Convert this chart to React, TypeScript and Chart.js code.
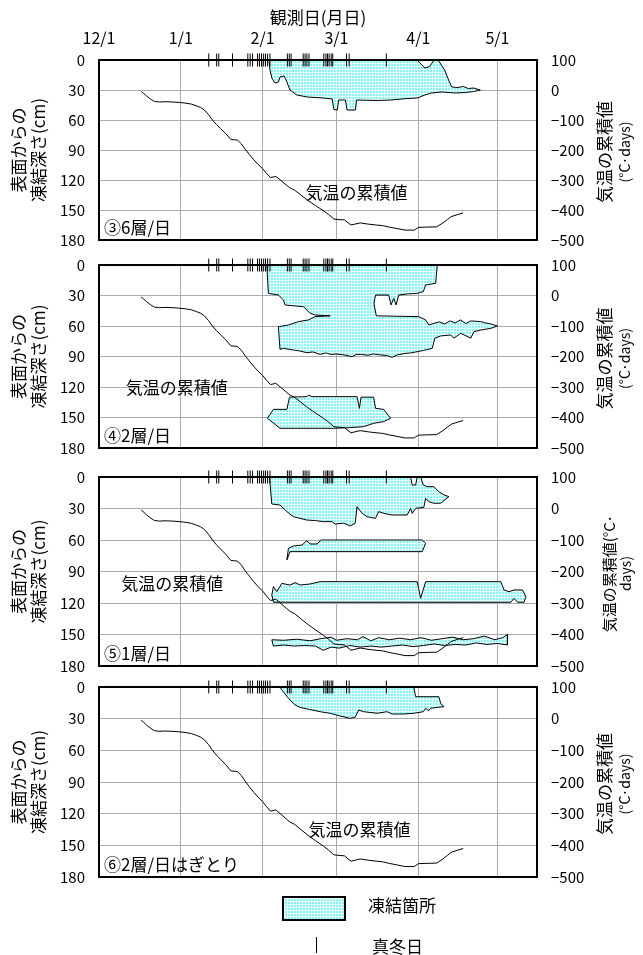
import React, { useEffect, useRef } from "react";
import { Chart, registerables } from "chart.js";

Chart.register(...registerables);

const FONT = '"Noto Sans CJK JP", "Noto Sans", sans-serif';
Chart.defaults.font.family = FONT;
Chart.defaults.color = "#000";

// ---------- axes ----------
const monthDays = [0, 31, 62, 90, 121, 151];
const monthLabels = ["12/1", "1/1", "2/1", "3/1", "4/1", "5/1"];
const dayMin = 0;
const dayMax = 166;
const depthMin = 0;
const depthMax = 180;
const depthStep = 30;
const tempMin = -500;
const tempMax = 100;
const tempStep = 100;

// ---------- cumulative air temperature [day since 12/1, °C·days] ----------
const cumTemp: [number, number][] = [
  [16, -5], [17, -12], [18, -20], [19.5, -30], [21, -38], [23, -40], [25, -39], [28, -40],
  [31, -42], [33, -44], [35, -47], [37, -53], [38.5, -58], [40, -67], [41.5, -82], [43, -100],
  [44.5, -115], [46, -128], [48, -145], [50, -165], [52.5, -167], [54, -180], [55.6, -200],
  [57, -215], [58.7, -233], [60.3, -248], [62, -262], [63.5, -278], [65, -292], [67, -288],
  [69, -302], [71, -317], [72.5, -327], [74, -333], [76.5, -350], [79, -367], [82, -385],
  [85, -402], [87, -415], [89, -430], [91, -432], [93, -433], [95.5, -450], [97, -447],
  [99, -443], [102, -447], [105, -450], [107.5, -452], [110, -457], [113, -462], [116, -467],
  [119.5, -467], [121, -458], [124, -457], [128, -456], [130, -445], [132, -432], [133.5, -422],
  [136, -415], [138, -410],
];

// ---------- 真冬日 (days since 12/1) ----------
const midwinterDays = [
  41.6, 44.6, 45.4, 50.6, 56.4, 57.3, 58.2, 60.1, 60.8, 61.6, 62.4, 63.1, 63.9, 64.8,
  71.4, 72.1, 72.8, 77.4, 78.1, 78.8, 79.6, 85.2, 86, 86.6, 87.2, 88, 88.6, 93.8, 94.8, 108.9,
];

// ---------- frozen zones [day, depth cm] (closed outlines) ----------
const p3Frozen: [number, number][] = [
  [64.4, 0], [120.6, 0], [123.5, 8], [125.3, 6.5], [127, 0], [128.5, 0], [131, 10], [132.5, 20],
  [133.7, 27], [136, 27.5], [138, 26.5], [140, 28.5], [142, 28], [144.5, 30],
  [142, 31.5], [139, 32.5], [135, 33], [130, 32], [126, 33], [123.5, 35], [120.6, 38],
  [116.8, 38.5], [110.5, 40], [105.4, 40.5], [97.6, 40], [97.2, 50], [94, 50], [93.4, 40],
  [90.8, 40], [90.3, 50], [89, 49.5], [88.4, 39], [85, 38], [79, 37], [75, 35], [72.4, 30],
  [71.2, 22], [70.2, 16], [68.6, 17], [68, 22], [66.7, 23], [65.5, 18], [64.8, 10], [64.4, 0],
];

const p4FrozenUpper: [number, number][] = [
  [63.6, 0], [128.2, 0], [127.6, 18], [123.8, 19.7], [122.9, 26.2], [120.6, 27.9], [116.8, 28.5],
  [113.6, 29.5], [112.6, 39.3], [111.7, 32.8], [110.7, 39.3], [109.8, 29.5], [104.8, 29.5],
  [104.2, 38], [105.1, 50], [121.2, 50.8], [123.8, 54], [125, 59], [126.9, 57.4], [129, 56],
  [131, 58], [133, 55], [135, 57], [137, 54], [139, 57.5], [141, 55], [144.7, 55.7],
  [146.5, 57], [148.5, 58], [151, 60],
  [148.5, 62.3], [144.7, 64], [142.1, 65.6], [140.9, 72], [137.1, 67.2], [134.5, 72],
  [133.3, 68.8], [129.5, 69.8], [127.3, 72], [126.3, 82], [123, 84], [120.6, 85.3], [118, 86.5],
  [116, 87], [113, 88.5], [111.1, 90.8], [109, 89], [106.7, 88.5], [104, 87.5], [102, 88.8],
  [99, 87.9], [97.5, 88], [95.9, 90.2], [93, 88.5], [90.2, 87.5], [88, 88], [86, 86.5],
  [83.8, 87.9], [81, 85.5], [78.8, 86.3], [76, 84.5], [73.7, 83.6], [69.9, 82], [68.6, 83],
  [68, 60.7], [71.8, 59], [75.6, 55.7], [79.4, 54], [81.9, 50.8], [87.6, 50],
  [81.9, 49.2], [80, 47.5], [77.5, 41], [70.5, 39.3], [69.9, 34.4], [68, 29.5], [64.2, 27.9],
  [63.6, 0],
];

const p4FrozenLower: [number, number][] = [
  [63.8, 150.8], [66.1, 142], [71.2, 142], [72.2, 130], [78.8, 129.5], [79.4, 127.9],
  [80.7, 129.5], [97.8, 129.5], [98.7, 141], [99.3, 130], [104.1, 130], [104.8, 141],
  [107.9, 142], [110.5, 150.8], [107.9, 154], [104.1, 155.7], [100.3, 159], [95, 160],
  [88.9, 160.6], [68.6, 160.6], [63.8, 150.8],
];

const p5FrozenUpper: [number, number][] = [
  [64.6, 0], [118.1, 0], [118.7, 7.6], [120, 7.6], [120.6, 0], [121.9, 0], [122.9, 7.6],
  [124.4, 9.2], [126.9, 9.2], [128.8, 14], [130.7, 17], [132.6, 18.7],
  [129.5, 25], [126.9, 25], [125, 23.5], [123.8, 20.3], [123.1, 28.9], [120, 29.8],
  [118.7, 34.6], [118.1, 30], [116.8, 36.2], [113, 36.2], [111.1, 36.2], [107.9, 34.6],
  [106, 33], [104.8, 39.4], [101.6, 37.8], [99.7, 34.6], [97.8, 28.3], [97.1, 44], [95.2, 46.7],
  [92.7, 44], [89.5, 44.8], [88.3, 42.5], [85, 42.5], [82, 41.5], [78.8, 41], [73.7, 37.8],
  [71.2, 33], [68.6, 26.7], [65.5, 25.7], [64.6, 0],
];

const p5FrozenMiddle: [number, number][] = [
  [71.2, 79], [71.8, 67.9], [73.7, 65.7], [76.9, 64.8], [78.8, 60.7], [80, 63.8], [82.6, 63.8],
  [84.2, 60], [122.5, 60], [123.8, 63.1], [122.5, 71.1], [72.4, 71.1], [71.2, 79],
];

const p5FrozenLower1: [number, number][] = [
  [65.5, 112.4], [66.1, 104.4], [67.4, 109.2], [69.3, 101.3], [72.4, 102.9], [74.3, 100.6],
  [76.2, 102.9], [80, 101.9], [83.8, 99.7], [120.6, 99.7], [121.9, 115.5], [123.8, 99.7],
  [152.3, 99.7], [153.5, 107.6], [155.4, 109.2], [157.3, 107.6], [160.5, 107.6], [161.8, 114],
  [161.1, 119.3], [158.6, 119.3], [157.3, 115.5], [156.1, 119.3], [152.3, 119.3],
  [66.1, 119.3], [65.5, 112.4],
];

const p5FrozenLower2: [number, number][] = [
  [65.5, 155], [70, 155.5], [75, 154.5], [80, 156], [84, 154], [88, 152.5], [90, 155.5],
  [94, 154], [98, 155], [100, 152], [103, 156], [106, 153], [110, 155], [114, 153.5],
  [118, 155], [122, 153], [126, 155.5], [130, 154], [134, 152.5], [138, 155], [142, 154],
  [146, 151.5], [150, 155], [153, 153], [154.8, 150],
  [154.8, 160], [151, 158.5], [147, 159.5], [143, 158], [139, 160], [135, 159.5], [131, 160.5],
  [127, 159], [123, 160.5], [119, 161.5], [115, 160], [111, 161], [107, 162], [103, 161],
  [99, 162], [95, 160.5], [91, 163], [88, 162], [85, 165], [82, 161], [78, 160.5], [74, 161],
  [70, 160], [66.1, 161], [65.5, 155],
];

const p6Frozen: [number, number][] = [
  [68.6, 0], [119.3, 0], [120, 9.2], [128.8, 9.2], [129.5, 15.5], [130.7, 18.7],
  [128.2, 19.3], [125.7, 20.2], [125, 22.4], [123.8, 20.2], [122.9, 23.4], [119.3, 24.9],
  [115.5, 25.6], [111.1, 25.6], [109.2, 23.4], [105.4, 24.9], [100.3, 23.4], [98.4, 21.8],
  [97.1, 28.7], [95.2, 29.7], [91.4, 27.5], [87.6, 24.9], [83.8, 23.4], [79.4, 21.1],
  [76.2, 19.3], [74.3, 17], [71.8, 10.7], [69.3, 2.8], [68.6, 0],
];

// ---------- texts ----------
const panelLabels = ["③6層/日", "④2層/日", "⑤1層/日", "⑥2層/日はぎとり"];
const xTitle = "観測日(月日)";
const leftTitle = ["表面からの", "凍結深さ(cm)"];
const rightTitle = ["気温の累積値", "(°C·days)"];
const rightTitleP5 = ["気温の累積値(°C·", "days)"];
const tempLabel = "気温の累積値";
const tempLabelPos: [number, number][] = [[97.6, 133], [29.5, 121], [27.8, 101], [98.7, 135.5]];
const legendFrozen = "凍結箇所";
const legendMidwinter = "真冬日";

// ---------- layout ----------
type PanelDef = {
  top: number;
  height: number;
  padTop: number;
  padBottom: number;
  showTop: boolean;
  zones: [number, number][][];
  label: string;
  tempPos: [number, number];
  rTitle: string[];
  rX: number[];
  rSize: number[];
  rDy: number;
};

const panels: PanelDef[] = [
  { top: 0, height: 264, padTop: 0, padBottom: 24, showTop: true, zones: [p3Frozen], label: panelLabels[0], tempPos: tempLabelPos[0], rTitle: rightTitle, rX: [68, 88], rSize: [17, 14], rDy: 2 },
  { top: 241, height: 231, padTop: 24, padBottom: 24, showTop: false, zones: [p4FrozenUpper, p4FrozenLower], label: panelLabels[1], tempPos: tempLabelPos[1], rTitle: rightTitle, rX: [68, 88], rSize: [17, 14], rDy: 2 },
  { top: 453, height: 237, padTop: 24, padBottom: 24, showTop: false, zones: [p5FrozenUpper, p5FrozenMiddle, p5FrozenLower1, p5FrozenLower2], label: panelLabels[2], tempPos: tempLabelPos[2], rTitle: rightTitleP5, rX: [72, 89], rSize: [15, 14], rDy: 2 },
  { top: 663, height: 238, padTop: 24, padBottom: 24, showTop: false, zones: [p6Frozen], label: panelLabels[3], tempPos: tempLabelPos[3], rTitle: rightTitle, rX: [68, 88], rSize: [17, 14], rDy: 2 },
];

function makePattern(): CanvasPattern | string {
  const c = document.createElement("canvas");
  c.width = 3;
  c.height = 3;
  const g = c.getContext("2d");
  if (!g) return "#aef5f5";
  g.fillStyle = "#8af3f3";
  g.fillRect(0, 0, 3, 3);
  g.fillStyle = "#e8ffff";
  g.fillRect(0, 0, 3, 1);
  g.fillRect(0, 0, 1, 3);
  return g.createPattern(c, "repeat") ?? "#aef5f5";
}

const overlayPlugin = {
  id: "overlay",
  afterDatasetsDraw(chart: any, _args: any, opts: any) {
    const { ctx, chartArea: a, scales } = chart;
    ctx.save();
    ctx.strokeStyle = "#000";
    ctx.lineWidth = 2;
    ctx.strokeRect(a.left, a.top, a.right - a.left, a.bottom - a.top);
    ctx.fillStyle = "#000";
    ctx.textBaseline = "middle";
    ctx.font = `17px ${FONT}`;
    ctx.textAlign = "center";
    ctx.fillText(opts.tempLabel, scales.x.getPixelForValue(opts.tempPos[0]), scales.y.getPixelForValue(opts.tempPos[1]));
    ctx.textAlign = "left";
    ctx.fillText(opts.panelLabel, a.left + 5, a.bottom - 12.5);
    const cy = (a.top + a.bottom) / 2 + opts.rDy;
    (opts.rTitle as string[]).forEach((t, i) => {
      ctx.save();
      ctx.translate(a.right + opts.rX[i], cy);
      ctx.rotate(-Math.PI / 2);
      ctx.textAlign = "center";
      ctx.font = `${opts.rSize[i]}px ${FONT}`;
      ctx.fillText(t, 0, 0);
      ctx.restore();
    });
    ctx.restore();
  },
};

const toPts = (arr: [number, number][]) => arr.map(([x, y]) => ({ x, y }));

function Panel({ def }: { def: PanelDef }) {
  const ref = useRef<HTMLCanvasElement>(null);
  useEffect(() => {
    const canvas = ref.current;
    if (!canvas) return;
    const pattern = makePattern();
    const datasets: any[] = [
      {
        data: toPts(cumTemp),
        yAxisID: "y2",
        borderColor: "#000",
        borderWidth: 1,
        pointRadius: 0,
        fill: false,
        tension: 0,
      },
      {
        data: midwinterDays.map((d) => ({ x: d, y: 0 })),
        yAxisID: "y",
        showLine: false,
        pointStyle: "line",
        pointRotation: 90,
        pointRadius: 6.5,
        pointBorderColor: "#000",
        pointBorderWidth: 1,
        clip: false,
      },
      ...def.zones.map((z) => ({
        data: toPts(z),
        yAxisID: "y",
        borderColor: "#000",
        borderWidth: 1,
        backgroundColor: pattern,
        fill: "shape",
        pointRadius: 0,
        tension: 0,
      })),
    ];
    const chart = new Chart(canvas, {
      type: "line",
      data: { datasets },
      options: {
        animation: false,
        responsive: false,
        events: [],
        layout: { padding: { top: def.padTop, bottom: def.padBottom, left: 0, right: 0 } },
        plugins: {
          legend: { display: false },
          tooltip: { enabled: false },
          overlay: {
            tempLabel,
            tempPos: def.tempPos,
            panelLabel: def.label,
            rTitle: def.rTitle,
            rX: def.rX,
            rSize: def.rSize,
            rDy: def.rDy,
          },
        } as any,
        scales: {
          x: {
            type: "linear",
            position: def.showTop ? "top" : "bottom",
            min: dayMin,
            max: dayMax,
            afterBuildTicks: (s: any) => {
              s.ticks = monthDays.map((v) => ({ value: v }));
            },
            afterFit: (s: any) => {
              s.height = def.showTop ? 60 : 0;
            },
            grid: { color: "#aaaaaa", lineWidth: 1, drawTicks: false },
            border: { display: false },
            ticks: {
              display: def.showTop,
              autoSkip: false,
              maxRotation: 0,
              padding: 12,
              font: { size: 16 },
              color: "#000",
              callback: (v: any) => {
                const i = monthDays.indexOf(Number(v));
                return i >= 0 ? monthLabels[i] : "";
              },
            },
            title: {
              display: def.showTop,
              text: xTitle,
              font: { size: 17 },
              color: "#000",
              padding: { top: 7, bottom: 0 },
            },
          },
          y: {
            type: "linear",
            position: "left",
            reverse: true,
            min: depthMin,
            max: depthMax,
            afterFit: (s: any) => {
              s.width = 99;
            },
            grid: { color: "#aaaaaa", lineWidth: 1, drawTicks: false },
            border: { display: false },
            ticks: { stepSize: depthStep, padding: 14, font: { size: 15 }, color: "#000" },
            title: {
              display: true,
              text: leftTitle,
              font: { size: 17 },
              color: "#000",
              padding: { top: 8, bottom: 0 },
            },
          },
          y2: {
            type: "linear",
            position: "right",
            min: tempMin,
            max: tempMax,
            afterFit: (s: any) => {
              s.width = 106;
            },
            grid: { drawOnChartArea: false, drawTicks: false },
            border: { display: false },
            ticks: {
              stepSize: tempStep,
              padding: 14,
              font: { size: 15 },
              color: "#000",
              callback: (v: any) => String(v).replace("-", "\u2212"),
            },
          },
        },
      } as any,
      plugins: [overlayPlugin],
    });
    return () => chart.destroy();
  }, [def]);
  return (
    <canvas
      ref={ref}
      width={643}
      height={def.height}
      style={{ position: "absolute", left: 0, top: def.top, width: 643, height: def.height }}
    />
  );
}

export default function App() {
  return (
    <div
      style={{
        position: "absolute",
        left: 0,
        top: 0,
        width: 643,
        height: 955,
        background: "#fff",
        fontFamily: FONT,
        color: "#000",
        overflow: "hidden",
      }}
    >
      {panels.map((p, i) => (
        <Panel key={i} def={p} />
      ))}
      <div
        style={{
          position: "absolute",
          left: 282,
          top: 896,
          width: 60,
          height: 21,
          border: "2px solid #000",
          backgroundColor: "#8af3f3",
          backgroundImage:
            "linear-gradient(#e8ffff 1px, transparent 1px), linear-gradient(90deg, #e8ffff 1px, transparent 1px)",
          backgroundSize: "3px 3px",
        }}
      />
      <div style={{ position: "absolute", left: 368, top: 894, fontSize: 17, lineHeight: "22px" }}>{legendFrozen}</div>
      <div style={{ position: "absolute", left: 316, top: 937, width: 1, height: 16, background: "#000" }} />
      <div style={{ position: "absolute", left: 372, top: 935, fontSize: 17, lineHeight: "22px" }}>{legendMidwinter}</div>
    </div>
  );
}
